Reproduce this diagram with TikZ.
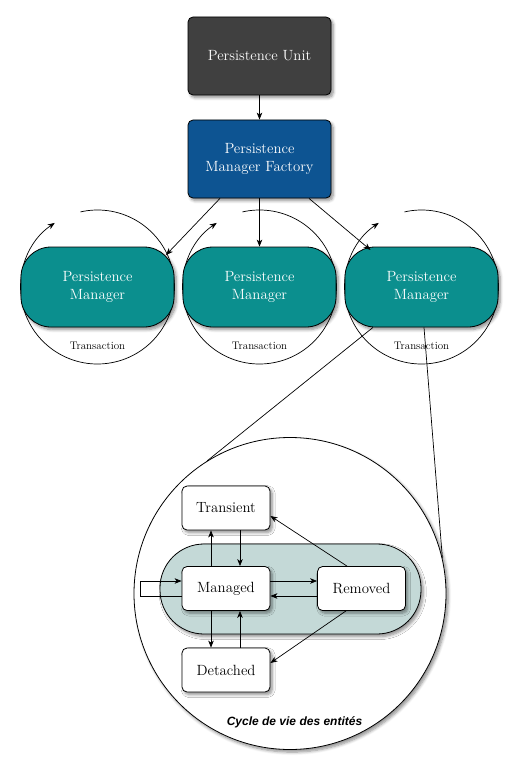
\documentclass[tikz,border=0pt]{standalone}
\usepackage{fontspec}
\newfontfamily\hvfont{Liberation Sans}
\usetikzlibrary{shadows,shadows.blur,arrows.meta}
\definecolor{puc}{HTML}{404040}
\definecolor{pmfc}{HTML}{0D5492}
\definecolor{pmc}{HTML}{0B8F8E}
\definecolor{bgc}{HTML}{C4D9D7}
\begin{document}
\begin{tikzpicture}[x=1pt,y=-1pt,
  shad/.style={blur shadow={shadow xshift=2.2pt,shadow yshift=-2.6pt,shadow blur radius=3pt,shadow opacity=45,shadow blur steps=6}},
  mainfont/.style={font=\fontsize{14.8}{17.5}\selectfont},
  topbox/.style={draw=black,line width=0.8pt,rounded corners=5pt,minimum width=143pt,minimum height=78pt,text=white,align=center,mainfont,shad},
  pmbox/.style={draw=black,line width=0.8pt,fill=pmc,rounded corners=30pt,minimum width=153pt,minimum height=80pt,text=white,align=center,mainfont,shad},
  state/.style={draw=black,line width=0.8pt,fill=white,rounded corners=5pt,minimum width=88pt,minimum height=44pt,mainfont,shad},
  arr/.style={-{Stealth[length=7pt,width=5.5pt,inset=2pt]},line width=0.7pt},
  txlabel/.style={font=\fontsize{11}{12}\selectfont},
  ring/.style={arr,line width=0.7pt}
]
\useasboundingbox (0,0) rectangle (518,773);

% transaction rings (behind the managers)
\coordinate (cL) at (97.5,287);
\coordinate (cM) at (259.5,287);
\coordinate (cR) at (421.5,287);
\foreach \c in {cL,cM,cR}{
  \draw[ring] ([shift={(102.8:77pt)}]\c) arc[start angle=102.8,end angle=-236.3,radius=77pt];
}

\node[topbox,fill=puc] (pu) at (259.5,56) {Persistence Unit};
\node[topbox,fill=pmfc] (pmf) at (259.5,159) {Persistence\\Manager Factory};

\node[pmbox] (pmL) at (cL) {Persistence\\Manager};
\node[pmbox] (pmM) at (cM) {Persistence\\Manager};
\node[pmbox] (pmR) at (cR) {Persistence\\Manager};

\node[txlabel] (tL) at (97.5,346) {Transaction};
\node[txlabel] (tM) at (259.5,346) {Transaction};
\node[txlabel] (tR) at (421.5,346) {Transaction};

\draw[arr] (pu.south) -- (pmf.north);
\draw[arr] ([xshift=-39.5pt]pmf.south) -- ([shift={(68.5,-32)}]pmL.center);
\draw[arr] (pmf.south) -- (pmM.north);
\draw[arr] ([xshift=49.5pt]pmf.south) -- ([shift={(-51,-37)}]pmR.center);

% lifecycle zoom
\node[circle,draw=black,line width=0.8pt,fill=white,minimum size=312pt,inner sep=0pt,shad] (big) at (290,593.5) {};
\draw[line width=0.7pt] ([xshift=-48.5pt]pmR.south) -- (big.122.5);
\draw[line width=0.7pt] ([xshift=2.5pt]pmR.south) -- (big.13.4);

\node[draw=black,line width=0.8pt,fill=bgc,rounded corners=44pt,minimum width=261pt,minimum height=90pt,shad] (bg) at (290.5,589) {};

\node[state] (T) at (226,508) {Transient};
\node[state] (M) at (226,588.5) {Managed};
\node[state] (R) at (361.5,588.5) {Removed};
\node[state] (D) at (226,670) {Detached};

\draw[arr] ([xshift=-15pt]M.north) -- ([xshift=-15pt]T.south);
\draw[arr] ([xshift=14pt]T.south) -- ([xshift=14pt]M.north);
\draw[arr] ([xshift=-15pt]M.south) -- ([xshift=-15pt]D.north);
\draw[arr] ([xshift=14pt]D.north) -- ([xshift=14pt]M.south);
\draw[arr] ([yshift=7.5pt]M.east) -- ([yshift=7.5pt]R.west);
\draw[arr] ([yshift=-7.5pt]R.west) -- ([yshift=-7.5pt]M.east);
\draw[arr] ([xshift=-14.5pt]R.north) -- ([yshift=-8pt]T.east);
\draw[arr] ([xshift=-15.5pt]R.south) -- ([yshift=7pt]D.east);
\draw[arr] ([yshift=-7.5pt]M.west) -- ++(-41,0) |- ([yshift=7.5pt]M.west);

\node[font=\hvfont\bfseries\itshape\fontsize{12}{14}\selectfont] (cap) at (294.5,722) {Cycle de vie des entités};
\end{tikzpicture}
\end{document}
